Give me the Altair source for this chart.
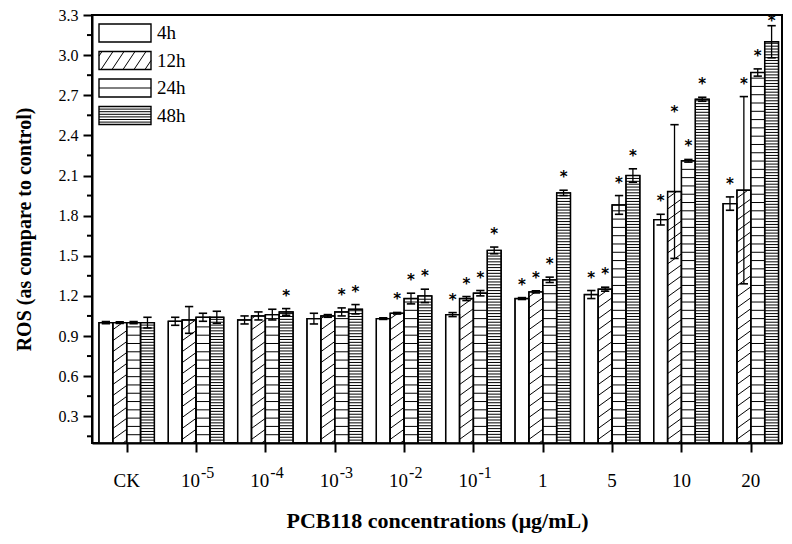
import altair as alt
import pandas as pd

# ---------------- data ----------------
categories = ["CK", "1e-5", "1e-4", "1e-3", "1e-2", "1e-1", "1", "5", "10", "20"]
label_base = ["CK", "10", "10", "10", "10", "10", "1", "5", "10", "20"]
label_exp = ["", "-5", "-4", "-3", "-2", "-1", "", "", "", ""]
series = ["4h", "12h", "24h", "48h"]

mean_4h = [1.00, 1.01, 1.02, 1.03, 1.03, 1.06, 1.18, 1.21, 1.77, 1.89]
err_4h = [0.008, 0.03, 0.03, 0.04, 0.006, 0.015, 0.007, 0.03, 0.04, 0.05]
mean_12h = [1.00, 1.02, 1.05, 1.05, 1.07, 1.18, 1.23, 1.25, 1.98, 1.99]
err_12h = [0.006, 0.10, 0.03, 0.01, 0.006, 0.015, 0.008, 0.015, 0.50, 0.70]
mean_24h = [1.00, 1.04, 1.06, 1.08, 1.18, 1.22, 1.32, 1.88, 2.21, 2.87]
err_24h = [0.008, 0.03, 0.04, 0.03, 0.04, 0.02, 0.02, 0.07, 0.01, 0.027]
mean_48h = [1.00, 1.04, 1.08, 1.10, 1.20, 1.54, 1.97, 2.10, 2.67, 3.10]
err_48h = [0.04, 0.045, 0.025, 0.035, 0.05, 0.025, 0.02, 0.05, 0.015, 0.12]

sig_4h = [0, 0, 0, 0, 0, 1, 1, 1, 1, 1]
sig_12h = [0, 0, 0, 0, 1, 1, 1, 1, 1, 1]
sig_24h = [0, 0, 0, 1, 1, 1, 1, 1, 1, 1]
sig_48h = [0, 0, 1, 1, 1, 1, 1, 1, 1, 1]

y_ticks = [0.3, 0.6, 0.9, 1.2, 1.5, 1.8, 2.1, 2.4, 2.7, 3.0, 3.3]
y_minor = [0.15, 0.45, 0.75, 1.05, 1.35, 1.65, 1.95, 2.25, 2.55, 2.85, 3.15]

# ---------------- layout constants ----------------
FONT = "Liberation Serif"
W, H = 690, 428
Y0, Y1 = 0.1, 3.3
BAR_W = 0.2
CAP = 0.06
STAR_MAX = 3.155

means = [mean_4h, mean_12h, mean_24h, mean_48h]
errs = [err_4h, err_12h, err_24h, err_48h]
sigs = [sig_4h, sig_12h, sig_24h, sig_48h]

rows = []
for j, s in enumerate(series):
    for i, c in enumerate(categories):
        x0 = i - 2 * BAR_W + j * BAR_W
        m, e = means[j][i], errs[j][i]
        rows.append(dict(cat=c, series=s, j=j, x0=x0, x1=x0 + BAR_W, xc=x0 + BAR_W / 2,
                         cl=x0 + BAR_W / 2 - CAP, cr=x0 + BAR_W / 2 + CAP,
                         mean=m, lo=m - e, hi=m + e, sig=sigs[j][i],
                         star=min(m + e, STAR_MAX)))
bars = pd.DataFrame(rows)

# hatch lines for bars (pattern fills)
hatch = []
for r in rows:
    top = r["mean"]
    if r["j"] == 1:  # diagonal
        step, rise = 0.082, 0.075
        ys = Y0 - rise + 0.02
        while ys < top:
            t0 = max(0.0, (Y0 - ys) / rise)
            t1 = min(1.0, (top - ys) / rise)
            if t1 > t0:
                hatch.append(dict(hx0=r["x0"] + t0 * BAR_W, hx1=r["x0"] + t1 * BAR_W,
                                  hy0=ys + t0 * rise, hy1=ys + t1 * rise))
            ys += step
    elif r["j"] == 2:
        step = 0.062
        y = Y0 + step
        while y < top - 0.012:
            hatch.append(dict(hx0=r["x0"], hx1=r["x1"], hy0=y, hy1=y))
            y += step
    elif r["j"] == 3:
        step = 0.0215
        y = Y0 + step
        while y < top - 0.008:
            hatch.append(dict(hx0=r["x0"], hx1=r["x1"], hy0=y, hy1=y))
            y += step
hatch = pd.DataFrame(hatch)

labels = pd.DataFrame(dict(idx=list(range(len(categories))), base=label_base, exp=label_exp))
labels_plain = labels[labels["exp"] == ""]
labels_pow = labels[labels["exp"] != ""]

minor = pd.DataFrame(dict(m=y_minor))

# legend (pixel coordinates within plot area)
LX0, LX1, LY, LSTEP, LH = 7, 59, 9, 27.5, 18
leg_rows, leg_lines = [], []
for j, s in enumerate(series):
    y0 = LY + j * LSTEP
    y1 = y0 + LH
    leg_rows.append(dict(series=s, x0=LX0, x1=LX1, y0=y0, y1=y1, tx=LX1 + 6, ty=y0 + 15))
    if j == 1:
        dx, sp = 12, 11
        xs = LX0 - dx + 3
        while xs < LX1:
            t0 = max(0.0, (LX0 - xs) / dx)
            t1 = min(1.0, (LX1 - xs) / dx)
            if t1 > t0:
                leg_lines.append(dict(a=xs + t0 * dx, b=xs + t1 * dx,
                                      c=y1 - t0 * LH, d=y1 - t1 * LH))
            xs += sp
    elif j == 2:
        leg_lines.append(dict(a=LX0, b=LX1, c=(y0 + y1) / 2, d=(y0 + y1) / 2))
    elif j == 3:
        yy = y0 + 2.6
        while yy < y1 - 1:
            leg_lines.append(dict(a=LX0, b=LX1, c=yy, d=yy))
            yy += 2.6
leg_rows = pd.DataFrame(leg_rows)
leg_lines = pd.DataFrame(leg_lines)

# ---------------- chart ----------------
xs_ = alt.Scale(domain=[-0.5, 9.45], nice=False, zero=False)
ys_ = alt.Scale(domain=[Y0, Y1], nice=False, zero=False)

x_axis = alt.Axis(values=list(range(10)), labels=False, tickSize=9, tickWidth=2,
                  domainWidth=2, domainColor="black", tickColor="black", grid=False,
                  title="PCB118 concentrations (μg/mL)", titleFont=FONT, titleFontSize=22,
                  titleFontWeight="bold", titleColor="black", titlePadding=57)
y_axis = alt.Axis(values=y_ticks, format=".1f", tickSize=9, tickWidth=2, domainWidth=2,
                  domainColor="black", tickColor="black", grid=False,
                  labelFont=FONT, labelFontSize=16, labelColor="black", labelPadding=5,
                  title="ROS (as compare to control)", titleFont=FONT, titleFontSize=20,
                  titleFontWeight="bold", titleColor="black", titlePadding=24)

base = alt.Chart(bars)

fill = base.mark_rect(fill="white", stroke="black", strokeWidth=1.2).encode(
    x=alt.X("x0:Q", scale=xs_, axis=x_axis), x2="x1:Q",
    y=alt.Y("mean:Q", scale=ys_, axis=y_axis), y2=alt.datum(Y0))

hatch_l = alt.Chart(hatch).mark_rule(color="black", strokeWidth=1).encode(
    x=alt.X("hx0:Q", scale=xs_, axis=None), x2="hx1:Q",
    y=alt.Y("hy0:Q", scale=ys_, axis=None), y2="hy1:Q")

outline = base.mark_rect(fillOpacity=0, stroke="black", strokeWidth=1.4).encode(
    x=alt.X("x0:Q", scale=xs_, axis=None), x2="x1:Q",
    y=alt.Y("mean:Q", scale=ys_, axis=None), y2=alt.datum(Y0))

ebar = base.mark_rule(color="black", strokeWidth=1.3).encode(
    x=alt.X("xc:Q", scale=xs_, axis=None),
    y=alt.Y("lo:Q", scale=ys_, axis=None), y2="hi:Q")
cap_hi = base.mark_rule(color="black", strokeWidth=1.6).encode(
    x=alt.X("cl:Q", scale=xs_, axis=None), x2="cr:Q",
    y=alt.Y("hi:Q", scale=ys_, axis=None))
cap_lo = base.mark_rule(color="black", strokeWidth=1.6).encode(
    x=alt.X("cl:Q", scale=xs_, axis=None), x2="cr:Q",
    y=alt.Y("lo:Q", scale=ys_, axis=None))

stars = base.transform_filter("datum.sig == 1").mark_text(
    text="*", font="DejaVu Sans", fontSize=15, fontWeight="bold", color="black",
    baseline="alphabetic", dy=-8).encode(
    x=alt.X("xc:Q", scale=xs_, axis=None),
    y=alt.Y("star:Q", scale=ys_, axis=None))

minor_l = alt.Chart(minor).mark_rule(color="black", strokeWidth=2).encode(
    x=alt.value(0), x2=alt.value(-5), y=alt.Y("m:Q", scale=ys_, axis=None))

lab_plain = alt.Chart(labels_plain).mark_text(
    font=FONT, fontSize=19, color="black", align="center", baseline="alphabetic").encode(
    x=alt.X("idx:Q", scale=xs_, axis=None), y=alt.value(H + 44), text="base:N")
lab_base = alt.Chart(labels_pow).mark_text(
    font=FONT, fontSize=19, color="black", align="right", baseline="alphabetic", dx=4).encode(
    x=alt.X("idx:Q", scale=xs_, axis=None), y=alt.value(H + 44), text="base:N")
lab_exp = alt.Chart(labels_pow).mark_text(
    font=FONT, fontSize=16, color="black", align="left", baseline="alphabetic", dx=5).encode(
    x=alt.X("idx:Q", scale=xs_, axis=None), y=alt.value(H + 35), text="exp:N")

leg_box = alt.Chart(leg_rows).mark_rect(fill="white", stroke="black", strokeWidth=1.4).encode(
    x=alt.X("x0:Q", scale=None), x2="x1:Q", y=alt.Y("y0:Q", scale=None), y2="y1:Q")
leg_hatch = alt.Chart(leg_lines).mark_rule(color="black", strokeWidth=1).encode(
    x=alt.X("a:Q", scale=None), x2="b:Q", y=alt.Y("c:Q", scale=None), y2="d:Q")
leg_text = alt.Chart(leg_rows).mark_text(
    font=FONT, fontSize=19, color="black", align="left", baseline="alphabetic").encode(
    x=alt.X("tx:Q", scale=None), y=alt.Y("ty:Q", scale=None), text="series:N")

chart = alt.layer(
    fill, hatch_l, outline, ebar, cap_hi, cap_lo, stars, minor_l,
    lab_plain, lab_base, lab_exp, leg_box, leg_hatch, leg_text
).resolve_axis(
    x="independent", y="independent"
).properties(
    width=W, height=H, autosize="none",
    padding={"left": 84, "top": 7, "right": 2, "bottom": 93},
    background="white"
).configure_view(stroke="black", strokeWidth=2)

chart.save("out.html", embed_options={"renderer": "svg", "actions": False})
